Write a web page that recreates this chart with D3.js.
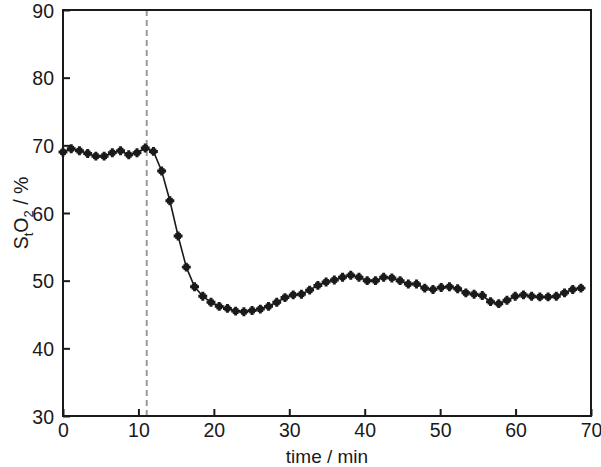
<!DOCTYPE html>
<html>
<head>
<meta charset="utf-8">
<script src="https://cdn.jsdelivr.net/npm/d3@7"></script>
<style>
  body { margin: 0; background: #fff; }
  text { font-family: "Liberation Sans", Arial, sans-serif; fill: #1a1a1a; }
</style>
</head>
<body>
<div id="chart"></div>
<script>
const width = 601;
const height = 467;

// time (min) of each sample
const times = [0, 1.09, 2.18, 3.27, 4.36, 5.45, 6.54, 7.63, 8.72, 9.81,
  10.9, 11.99, 13.08, 14.17, 15.26, 16.35, 17.44, 18.53, 19.62, 20.71,
  21.8, 22.89, 23.98, 25.07, 26.16, 27.25, 28.34, 29.43, 30.52, 31.61,
  32.7, 33.79, 34.88, 35.97, 37.06, 38.15, 39.24, 40.33, 41.42, 42.51,
  43.6, 44.69, 45.78, 46.87, 47.96, 49.05, 50.14, 51.23, 52.32, 53.41,
  54.5, 55.59, 56.68, 57.77, 58.86, 59.95, 61.04, 62.13, 63.22, 64.31,
  65.4, 66.49, 67.58, 68.67];

// StO2 (%)
const sto2 = [69.0, 69.5, 69.2, 68.8, 68.4, 68.4, 68.9, 69.2, 68.6, 68.9,
  69.6, 69.1, 66.2, 61.8, 56.6, 52.0, 49.1, 47.7, 46.8, 46.2,
  45.9, 45.5, 45.4, 45.6, 45.8, 46.2, 46.8, 47.5, 47.9, 48.0,
  48.6, 49.3, 49.8, 50.1, 50.5, 50.8, 50.5, 50.0, 50.0, 50.5,
  50.4, 50.0, 49.5, 49.5, 48.9, 48.7, 49.0, 49.1, 48.8, 48.2,
  48.0, 47.8, 46.9, 46.6, 47.1, 47.7, 47.9, 47.7, 47.6, 47.6,
  47.7, 48.2, 48.7, 48.9];

const xTicks = [0, 10, 20, 30, 40, 50, 60, 70];
const yTicks = [30, 40, 50, 60, 70, 80, 90];
const markerTime = 11.1; // dashed line

const margin = { top: 10, right: 10, bottom: 51, left: 63 };

const svg = d3.select("#chart")
  .append("svg")
  .attr("width", width)
  .attr("height", height);

const x = d3.scaleLinear()
  .domain([0, 70])
  .range([margin.left, width - margin.right]);

const y = d3.scaleLinear()
  .domain([30, 90])
  .range([height - margin.bottom, margin.top]);

// dashed vertical line
svg.append("line")
  .attr("x1", x(markerTime))
  .attr("x2", x(markerTime))
  .attr("y1", y(90))
  .attr("y2", y(30))
  .attr("stroke", "#999")
  .attr("stroke-width", 2)
  .attr("stroke-dasharray", "6,4");

// axes with inward ticks
const xAxis = svg.append("g")
  .attr("transform", `translate(0, ${y(30)})`)
  .call(d3.axisBottom(x).tickValues(xTicks).tickSize(-7).tickPadding(7).tickSizeOuter(0));

const yAxis = svg.append("g")
  .attr("transform", `translate(${x(0)}, 0)`)
  .call(d3.axisLeft(y).tickValues(yTicks).tickSize(-7).tickPadding(9).tickSizeOuter(0));

[xAxis, yAxis].forEach(g => {
  g.select(".domain").remove();
  g.selectAll("line").attr("stroke", "#1a1a1a").attr("stroke-width", 2);
  g.selectAll("text")
    .style("font-size", "19.5px")
    .style("font-family", "'Liberation Sans', Arial, sans-serif")
    .attr("fill", "#1a1a1a");
});
yAxis.selectAll("text").attr("dy", "0.36em");

// frame
svg.append("rect")
  .attr("x", x(0))
  .attr("y", y(90))
  .attr("width", x(70) - x(0))
  .attr("height", y(30) - y(90))
  .attr("fill", "none")
  .attr("stroke", "#1a1a1a")
  .attr("stroke-width", 2);

// data line
const pts = times.map((t, i) => [t, sto2[i]]);

svg.append("path")
  .datum(pts)
  .attr("fill", "none")
  .attr("stroke", "#1a1a1a")
  .attr("stroke-width", 1.6)
  .attr("d", d3.line().x(d => x(d[0])).y(d => y(d[1])));

svg.selectAll(".pt")
  .data(pts)
  .enter()
  .append("path")
  .attr("class", "pt")
  .attr("transform", d => `translate(${x(d[0])}, ${y(d[1])})`)
  .attr("d", d3.symbol().type(d3.symbolSquare).size(34))
  .attr("fill", "#1a1a1a");

svg.selectAll(".pt2")
  .data(pts)
  .enter()
  .append("path")
  .attr("class", "pt2")
  .attr("transform", d => `translate(${x(d[0])}, ${y(d[1])})`)
  .attr("d", d3.symbol().type(d3.symbolCross).size(44))
  .attr("fill", "#1a1a1a");

// axis titles
svg.append("text")
  .attr("x", (x(0) + x(70)) / 2)
  .attr("y", 463)
  .attr("text-anchor", "middle")
  .style("font-size", "19px")
  .text("time / min");

const yl = svg.append("text")
  .attr("transform", `translate(28, ${(y(30) + y(90)) / 2}) rotate(-90)`)
  .attr("text-anchor", "middle")
  .style("font-size", "19.5px");
yl.append("tspan").text("S");
yl.append("tspan").attr("dy", 5).style("font-size", "13px").text("t");
yl.append("tspan").attr("dy", -5).text("O");
yl.append("tspan").attr("dy", 5).style("font-size", "13px").text("2");
yl.append("tspan").attr("dy", -5).text(" / %");
</script>
</body>
</html>
